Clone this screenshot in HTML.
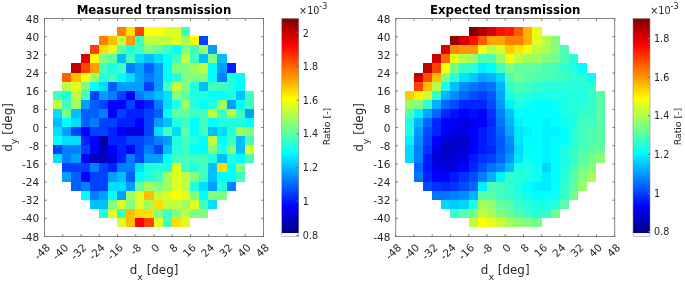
<!DOCTYPE html>
<html><head><meta charset="utf-8"><title>Transmission</title>
<style>
html,body{margin:0;padding:0;background:#fff}
svg{display:block}
text{font-family:'DejaVu Sans','Liberation Sans',sans-serif;fill:#262626}
.t{font-size:10.5px}
.c{font-size:9.6px}
.cl{font-size:9.3px}
.ti{font-size:11.75px;font-weight:bold;fill:#000}
.l{font-size:11.9px}
.sub{font-size:9.5px}
.sup{font-size:8px}
</style></head><body>
<svg width="685" height="282" viewBox="0 0 685 282">
<defs><linearGradient id="jet" x1="0" y1="1" x2="0" y2="0"><stop offset="0" stop-color="#fff"/><stop offset="0.0154" stop-color="#fff"/><stop offset="0.0154" stop-color="#000080"/><stop offset="0.0308" stop-color="#00008f"/><stop offset="0.0462" stop-color="#00009f"/><stop offset="0.0615" stop-color="#0000af"/><stop offset="0.0769" stop-color="#0000bf"/><stop offset="0.0923" stop-color="#0000cf"/><stop offset="0.1077" stop-color="#0000df"/><stop offset="0.1231" stop-color="#0000ef"/><stop offset="0.1385" stop-color="#0000ff"/><stop offset="0.1538" stop-color="#0010ff"/><stop offset="0.1692" stop-color="#0020ff"/><stop offset="0.1846" stop-color="#0030ff"/><stop offset="0.2000" stop-color="#0040ff"/><stop offset="0.2154" stop-color="#0050ff"/><stop offset="0.2308" stop-color="#0060ff"/><stop offset="0.2462" stop-color="#0070ff"/><stop offset="0.2615" stop-color="#0080ff"/><stop offset="0.2769" stop-color="#008fff"/><stop offset="0.2923" stop-color="#009fff"/><stop offset="0.3077" stop-color="#00afff"/><stop offset="0.3231" stop-color="#00bfff"/><stop offset="0.3385" stop-color="#00cfff"/><stop offset="0.3538" stop-color="#00dfff"/><stop offset="0.3692" stop-color="#00efff"/><stop offset="0.3846" stop-color="#00ffff"/><stop offset="0.4000" stop-color="#10ffef"/><stop offset="0.4154" stop-color="#20ffdf"/><stop offset="0.4308" stop-color="#30ffcf"/><stop offset="0.4462" stop-color="#40ffbf"/><stop offset="0.4615" stop-color="#50ffaf"/><stop offset="0.4769" stop-color="#60ff9f"/><stop offset="0.4923" stop-color="#70ff8f"/><stop offset="0.5077" stop-color="#80ff80"/><stop offset="0.5231" stop-color="#8fff70"/><stop offset="0.5385" stop-color="#9fff60"/><stop offset="0.5538" stop-color="#afff50"/><stop offset="0.5692" stop-color="#bfff40"/><stop offset="0.5846" stop-color="#cfff30"/><stop offset="0.6000" stop-color="#dfff20"/><stop offset="0.6154" stop-color="#efff10"/><stop offset="0.6308" stop-color="#ffff00"/><stop offset="0.6462" stop-color="#ffef00"/><stop offset="0.6615" stop-color="#ffdf00"/><stop offset="0.6769" stop-color="#ffcf00"/><stop offset="0.6923" stop-color="#ffbf00"/><stop offset="0.7077" stop-color="#ffaf00"/><stop offset="0.7231" stop-color="#ff9f00"/><stop offset="0.7385" stop-color="#ff8f00"/><stop offset="0.7538" stop-color="#ff8000"/><stop offset="0.7692" stop-color="#ff7000"/><stop offset="0.7846" stop-color="#ff6000"/><stop offset="0.8000" stop-color="#ff5000"/><stop offset="0.8154" stop-color="#ff4000"/><stop offset="0.8308" stop-color="#ff3000"/><stop offset="0.8462" stop-color="#ff2000"/><stop offset="0.8615" stop-color="#ff1000"/><stop offset="0.8769" stop-color="#ff0000"/><stop offset="0.8923" stop-color="#ef0000"/><stop offset="0.9077" stop-color="#df0000"/><stop offset="0.9231" stop-color="#cf0000"/><stop offset="0.9385" stop-color="#bf0000"/><stop offset="0.9538" stop-color="#af0000"/><stop offset="0.9692" stop-color="#9f0000"/><stop offset="0.9846" stop-color="#8f0000"/><stop offset="1.0000" stop-color="#800000"/></linearGradient></defs>
<rect width="685" height="282" fill="#fff"/>
<g shape-rendering="crispEdges">
<rect x="117" y="27" width="9" height="9" fill="#ff8000"/>
<rect x="126" y="27" width="9" height="9" fill="#ffdf00"/>
<rect x="135" y="27" width="9" height="9" fill="#ff4000"/>
<rect x="144" y="27" width="10" height="9" fill="#ffff00"/>
<rect x="154" y="27" width="9" height="9" fill="#ffff00"/>
<rect x="163" y="27" width="9" height="9" fill="#dfff20"/>
<rect x="172" y="27" width="9" height="9" fill="#dfff20"/>
<rect x="181" y="27" width="9" height="9" fill="#40ffbf"/>
<rect x="99" y="36" width="9" height="9" fill="#ff8000"/>
<rect x="108" y="36" width="9" height="9" fill="#ffbf00"/>
<rect x="117" y="36" width="9" height="9" fill="#bfff40"/>
<rect x="126" y="36" width="9" height="9" fill="#ff9f00"/>
<rect x="135" y="36" width="9" height="9" fill="#40ffbf"/>
<rect x="144" y="36" width="10" height="9" fill="#bfff40"/>
<rect x="154" y="36" width="9" height="9" fill="#bfff40"/>
<rect x="163" y="36" width="9" height="9" fill="#bfff40"/>
<rect x="172" y="36" width="9" height="9" fill="#dfff20"/>
<rect x="181" y="36" width="9" height="9" fill="#9fff60"/>
<rect x="190" y="36" width="9" height="9" fill="#ffff00"/>
<rect x="199" y="36" width="9" height="9" fill="#0040ff"/>
<rect x="90" y="45" width="9" height="9" fill="#ff4000"/>
<rect x="99" y="45" width="9" height="9" fill="#ffdf00"/>
<rect x="108" y="45" width="9" height="9" fill="#dfff20"/>
<rect x="117" y="45" width="9" height="9" fill="#60ff9f"/>
<rect x="126" y="45" width="9" height="9" fill="#20ffdf"/>
<rect x="135" y="45" width="9" height="9" fill="#40ffbf"/>
<rect x="144" y="45" width="10" height="9" fill="#80ff80"/>
<rect x="154" y="45" width="9" height="9" fill="#60ff9f"/>
<rect x="163" y="45" width="9" height="9" fill="#40ffbf"/>
<rect x="172" y="45" width="9" height="9" fill="#00ffff"/>
<rect x="181" y="45" width="9" height="9" fill="#80ff80"/>
<rect x="190" y="45" width="9" height="9" fill="#40ffbf"/>
<rect x="199" y="45" width="9" height="9" fill="#9fff60"/>
<rect x="208" y="45" width="9" height="9" fill="#009fff"/>
<rect x="81" y="54" width="9" height="9" fill="#df0000"/>
<rect x="90" y="54" width="9" height="9" fill="#ffff00"/>
<rect x="99" y="54" width="9" height="9" fill="#80ff80"/>
<rect x="108" y="54" width="9" height="9" fill="#60ff9f"/>
<rect x="117" y="54" width="9" height="9" fill="#00bfff"/>
<rect x="126" y="54" width="9" height="9" fill="#40ffbf"/>
<rect x="135" y="54" width="9" height="9" fill="#00dfff"/>
<rect x="144" y="54" width="10" height="9" fill="#00bfff"/>
<rect x="154" y="54" width="9" height="9" fill="#00dfff"/>
<rect x="163" y="54" width="9" height="9" fill="#00ffff"/>
<rect x="172" y="54" width="9" height="9" fill="#40ffbf"/>
<rect x="181" y="54" width="9" height="9" fill="#bfff40"/>
<rect x="190" y="54" width="9" height="9" fill="#40ffbf"/>
<rect x="199" y="54" width="9" height="9" fill="#00bfff"/>
<rect x="208" y="54" width="9" height="9" fill="#80ff80"/>
<rect x="217" y="54" width="10" height="9" fill="#00bfff"/>
<rect x="71" y="63" width="10" height="10" fill="#bf0000"/>
<rect x="81" y="63" width="9" height="10" fill="#ff4000"/>
<rect x="90" y="63" width="9" height="10" fill="#ff9f00"/>
<rect x="99" y="63" width="9" height="10" fill="#40ffbf"/>
<rect x="108" y="63" width="9" height="10" fill="#20ffdf"/>
<rect x="117" y="63" width="9" height="10" fill="#40ffbf"/>
<rect x="126" y="63" width="9" height="10" fill="#0080ff"/>
<rect x="135" y="63" width="9" height="10" fill="#009fff"/>
<rect x="144" y="63" width="10" height="10" fill="#0060ff"/>
<rect x="154" y="63" width="9" height="10" fill="#009fff"/>
<rect x="163" y="63" width="9" height="10" fill="#00ffff"/>
<rect x="172" y="63" width="9" height="10" fill="#80ff80"/>
<rect x="181" y="63" width="9" height="10" fill="#80ff80"/>
<rect x="190" y="63" width="9" height="10" fill="#9fff60"/>
<rect x="199" y="63" width="9" height="10" fill="#bfff40"/>
<rect x="208" y="63" width="9" height="10" fill="#00ffff"/>
<rect x="217" y="63" width="10" height="10" fill="#009fff"/>
<rect x="227" y="63" width="9" height="10" fill="#0020ff"/>
<rect x="62" y="73" width="9" height="9" fill="#ff6000"/>
<rect x="71" y="73" width="10" height="9" fill="#ffbf00"/>
<rect x="81" y="73" width="9" height="9" fill="#ffff00"/>
<rect x="90" y="73" width="9" height="9" fill="#9fff60"/>
<rect x="99" y="73" width="9" height="9" fill="#20ffdf"/>
<rect x="108" y="73" width="9" height="9" fill="#40ffbf"/>
<rect x="117" y="73" width="9" height="9" fill="#00ffff"/>
<rect x="126" y="73" width="9" height="9" fill="#00dfff"/>
<rect x="135" y="73" width="9" height="9" fill="#009fff"/>
<rect x="144" y="73" width="10" height="9" fill="#0080ff"/>
<rect x="154" y="73" width="9" height="9" fill="#009fff"/>
<rect x="163" y="73" width="9" height="9" fill="#00ffff"/>
<rect x="172" y="73" width="9" height="9" fill="#20ffdf"/>
<rect x="181" y="73" width="9" height="9" fill="#80ff80"/>
<rect x="190" y="73" width="9" height="9" fill="#80ff80"/>
<rect x="199" y="73" width="9" height="9" fill="#80ff80"/>
<rect x="208" y="73" width="9" height="9" fill="#00ffff"/>
<rect x="217" y="73" width="10" height="9" fill="#0080ff"/>
<rect x="227" y="73" width="9" height="9" fill="#20ffdf"/>
<rect x="236" y="73" width="9" height="9" fill="#00ffff"/>
<rect x="62" y="82" width="9" height="9" fill="#bfff40"/>
<rect x="71" y="82" width="10" height="9" fill="#dfff20"/>
<rect x="81" y="82" width="9" height="9" fill="#80ff80"/>
<rect x="90" y="82" width="9" height="9" fill="#00ffff"/>
<rect x="99" y="82" width="9" height="9" fill="#00dfff"/>
<rect x="108" y="82" width="9" height="9" fill="#0060ff"/>
<rect x="117" y="82" width="9" height="9" fill="#009fff"/>
<rect x="126" y="82" width="9" height="9" fill="#009fff"/>
<rect x="135" y="82" width="9" height="9" fill="#009fff"/>
<rect x="144" y="82" width="10" height="9" fill="#0040ff"/>
<rect x="154" y="82" width="9" height="9" fill="#009fff"/>
<rect x="163" y="82" width="9" height="9" fill="#40ffbf"/>
<rect x="172" y="82" width="9" height="9" fill="#bfff40"/>
<rect x="181" y="82" width="9" height="9" fill="#80ff80"/>
<rect x="190" y="82" width="9" height="9" fill="#20ffdf"/>
<rect x="199" y="82" width="9" height="9" fill="#00bfff"/>
<rect x="208" y="82" width="9" height="9" fill="#40ffbf"/>
<rect x="217" y="82" width="10" height="9" fill="#40ffbf"/>
<rect x="227" y="82" width="9" height="9" fill="#20ffdf"/>
<rect x="236" y="82" width="9" height="9" fill="#00ffff"/>
<rect x="53" y="91" width="9" height="9" fill="#40ffbf"/>
<rect x="62" y="91" width="9" height="9" fill="#20ffdf"/>
<rect x="71" y="91" width="10" height="9" fill="#bfff40"/>
<rect x="81" y="91" width="9" height="9" fill="#40ffbf"/>
<rect x="90" y="91" width="9" height="9" fill="#0040ff"/>
<rect x="99" y="91" width="9" height="9" fill="#009fff"/>
<rect x="108" y="91" width="9" height="9" fill="#0080ff"/>
<rect x="117" y="91" width="9" height="9" fill="#0040ff"/>
<rect x="126" y="91" width="9" height="9" fill="#0000ff"/>
<rect x="135" y="91" width="9" height="9" fill="#0080ff"/>
<rect x="144" y="91" width="10" height="9" fill="#009fff"/>
<rect x="154" y="91" width="9" height="9" fill="#00bfff"/>
<rect x="163" y="91" width="9" height="9" fill="#00dfff"/>
<rect x="172" y="91" width="9" height="9" fill="#80ff80"/>
<rect x="181" y="91" width="9" height="9" fill="#60ff9f"/>
<rect x="190" y="91" width="9" height="9" fill="#20ffdf"/>
<rect x="199" y="91" width="9" height="9" fill="#20ffdf"/>
<rect x="208" y="91" width="9" height="9" fill="#00ffff"/>
<rect x="217" y="91" width="10" height="9" fill="#00ffff"/>
<rect x="227" y="91" width="9" height="9" fill="#20ffdf"/>
<rect x="236" y="91" width="9" height="9" fill="#00bfff"/>
<rect x="245" y="91" width="9" height="9" fill="#40ffbf"/>
<rect x="53" y="100" width="9" height="9" fill="#bfff40"/>
<rect x="62" y="100" width="9" height="9" fill="#40ffbf"/>
<rect x="71" y="100" width="10" height="9" fill="#9fff60"/>
<rect x="81" y="100" width="9" height="9" fill="#009fff"/>
<rect x="90" y="100" width="9" height="9" fill="#0060ff"/>
<rect x="99" y="100" width="9" height="9" fill="#0040ff"/>
<rect x="108" y="100" width="9" height="9" fill="#0000ff"/>
<rect x="117" y="100" width="9" height="9" fill="#0000ff"/>
<rect x="126" y="100" width="9" height="9" fill="#0040ff"/>
<rect x="135" y="100" width="9" height="9" fill="#0000ff"/>
<rect x="144" y="100" width="10" height="9" fill="#0020ff"/>
<rect x="154" y="100" width="9" height="9" fill="#0080ff"/>
<rect x="163" y="100" width="9" height="9" fill="#00dfff"/>
<rect x="172" y="100" width="9" height="9" fill="#20ffdf"/>
<rect x="181" y="100" width="9" height="9" fill="#9fff60"/>
<rect x="190" y="100" width="9" height="9" fill="#20ffdf"/>
<rect x="199" y="100" width="9" height="9" fill="#00ffff"/>
<rect x="208" y="100" width="9" height="9" fill="#20ffdf"/>
<rect x="217" y="100" width="10" height="9" fill="#9fff60"/>
<rect x="227" y="100" width="9" height="9" fill="#009fff"/>
<rect x="236" y="100" width="9" height="9" fill="#00ffff"/>
<rect x="245" y="100" width="9" height="9" fill="#40ffbf"/>
<rect x="53" y="109" width="9" height="9" fill="#00dfff"/>
<rect x="62" y="109" width="9" height="9" fill="#80ff80"/>
<rect x="71" y="109" width="10" height="9" fill="#00bfff"/>
<rect x="81" y="109" width="9" height="9" fill="#0060ff"/>
<rect x="90" y="109" width="9" height="9" fill="#0060ff"/>
<rect x="99" y="109" width="9" height="9" fill="#0080ff"/>
<rect x="108" y="109" width="9" height="9" fill="#0000ff"/>
<rect x="117" y="109" width="9" height="9" fill="#0040ff"/>
<rect x="126" y="109" width="9" height="9" fill="#0020ff"/>
<rect x="135" y="109" width="9" height="9" fill="#0020ff"/>
<rect x="144" y="109" width="10" height="9" fill="#0040ff"/>
<rect x="154" y="109" width="9" height="9" fill="#0060ff"/>
<rect x="163" y="109" width="9" height="9" fill="#00ffff"/>
<rect x="172" y="109" width="9" height="9" fill="#60ff9f"/>
<rect x="181" y="109" width="9" height="9" fill="#60ff9f"/>
<rect x="190" y="109" width="9" height="9" fill="#40ffbf"/>
<rect x="199" y="109" width="9" height="9" fill="#40ffbf"/>
<rect x="208" y="109" width="9" height="9" fill="#bfff40"/>
<rect x="217" y="109" width="10" height="9" fill="#40ffbf"/>
<rect x="227" y="109" width="9" height="9" fill="#bfff40"/>
<rect x="236" y="109" width="9" height="9" fill="#40ffbf"/>
<rect x="245" y="109" width="9" height="9" fill="#009fff"/>
<rect x="53" y="118" width="9" height="9" fill="#00bfff"/>
<rect x="62" y="118" width="9" height="9" fill="#00ffff"/>
<rect x="71" y="118" width="10" height="9" fill="#00dfff"/>
<rect x="81" y="118" width="9" height="9" fill="#0060ff"/>
<rect x="90" y="118" width="9" height="9" fill="#0080ff"/>
<rect x="99" y="118" width="9" height="9" fill="#0040ff"/>
<rect x="108" y="118" width="9" height="9" fill="#0040ff"/>
<rect x="117" y="118" width="9" height="9" fill="#0020ff"/>
<rect x="126" y="118" width="9" height="9" fill="#0020ff"/>
<rect x="135" y="118" width="9" height="9" fill="#0000ff"/>
<rect x="144" y="118" width="10" height="9" fill="#0040ff"/>
<rect x="154" y="118" width="9" height="9" fill="#009fff"/>
<rect x="163" y="118" width="9" height="9" fill="#00bfff"/>
<rect x="172" y="118" width="9" height="9" fill="#20ffdf"/>
<rect x="181" y="118" width="9" height="9" fill="#40ffbf"/>
<rect x="190" y="118" width="9" height="9" fill="#00ffff"/>
<rect x="199" y="118" width="9" height="9" fill="#40ffbf"/>
<rect x="208" y="118" width="9" height="9" fill="#00ffff"/>
<rect x="217" y="118" width="10" height="9" fill="#20ffdf"/>
<rect x="227" y="118" width="9" height="9" fill="#20ffdf"/>
<rect x="236" y="118" width="9" height="9" fill="#20ffdf"/>
<rect x="245" y="118" width="9" height="9" fill="#00ffff"/>
<rect x="53" y="127" width="9" height="9" fill="#00dfff"/>
<rect x="62" y="127" width="9" height="9" fill="#009fff"/>
<rect x="71" y="127" width="10" height="9" fill="#0040ff"/>
<rect x="81" y="127" width="9" height="9" fill="#0000ff"/>
<rect x="90" y="127" width="9" height="9" fill="#0040ff"/>
<rect x="99" y="127" width="9" height="9" fill="#0040ff"/>
<rect x="108" y="127" width="9" height="9" fill="#0020ff"/>
<rect x="117" y="127" width="9" height="9" fill="#0000ff"/>
<rect x="126" y="127" width="9" height="9" fill="#0000df"/>
<rect x="135" y="127" width="9" height="9" fill="#0000df"/>
<rect x="144" y="127" width="10" height="9" fill="#0040ff"/>
<rect x="154" y="127" width="9" height="9" fill="#00dfff"/>
<rect x="163" y="127" width="9" height="9" fill="#40ffbf"/>
<rect x="172" y="127" width="9" height="9" fill="#00dfff"/>
<rect x="181" y="127" width="9" height="9" fill="#60ff9f"/>
<rect x="190" y="127" width="9" height="9" fill="#00ffff"/>
<rect x="199" y="127" width="9" height="9" fill="#40ffbf"/>
<rect x="208" y="127" width="9" height="9" fill="#00bfff"/>
<rect x="217" y="127" width="10" height="9" fill="#00dfff"/>
<rect x="227" y="127" width="9" height="9" fill="#20ffdf"/>
<rect x="236" y="127" width="9" height="9" fill="#9fff60"/>
<rect x="245" y="127" width="9" height="9" fill="#80ff80"/>
<rect x="53" y="136" width="9" height="9" fill="#00ffff"/>
<rect x="62" y="136" width="9" height="9" fill="#00dfff"/>
<rect x="71" y="136" width="10" height="9" fill="#00dfff"/>
<rect x="81" y="136" width="9" height="9" fill="#0020ff"/>
<rect x="90" y="136" width="9" height="9" fill="#0000ff"/>
<rect x="99" y="136" width="9" height="9" fill="#00009f"/>
<rect x="108" y="136" width="9" height="9" fill="#0020ff"/>
<rect x="117" y="136" width="9" height="9" fill="#0020ff"/>
<rect x="126" y="136" width="9" height="9" fill="#0040ff"/>
<rect x="135" y="136" width="9" height="9" fill="#0040ff"/>
<rect x="144" y="136" width="10" height="9" fill="#0060ff"/>
<rect x="154" y="136" width="9" height="9" fill="#0080ff"/>
<rect x="163" y="136" width="9" height="9" fill="#009fff"/>
<rect x="172" y="136" width="9" height="9" fill="#20ffdf"/>
<rect x="181" y="136" width="9" height="9" fill="#40ffbf"/>
<rect x="190" y="136" width="9" height="9" fill="#20ffdf"/>
<rect x="199" y="136" width="9" height="9" fill="#00ffff"/>
<rect x="208" y="136" width="9" height="9" fill="#bfff40"/>
<rect x="217" y="136" width="10" height="9" fill="#00ffff"/>
<rect x="227" y="136" width="9" height="9" fill="#40ffbf"/>
<rect x="236" y="136" width="9" height="9" fill="#00bfff"/>
<rect x="245" y="136" width="9" height="9" fill="#40ffbf"/>
<rect x="53" y="145" width="9" height="9" fill="#0040ff"/>
<rect x="62" y="145" width="9" height="9" fill="#0080ff"/>
<rect x="71" y="145" width="10" height="9" fill="#0080ff"/>
<rect x="81" y="145" width="9" height="9" fill="#0040ff"/>
<rect x="90" y="145" width="9" height="9" fill="#0000ff"/>
<rect x="99" y="145" width="9" height="9" fill="#0000bf"/>
<rect x="108" y="145" width="9" height="9" fill="#0000ff"/>
<rect x="117" y="145" width="9" height="9" fill="#0020ff"/>
<rect x="126" y="145" width="9" height="9" fill="#0000ff"/>
<rect x="135" y="145" width="9" height="9" fill="#0040ff"/>
<rect x="144" y="145" width="10" height="9" fill="#0080ff"/>
<rect x="154" y="145" width="9" height="9" fill="#0040ff"/>
<rect x="163" y="145" width="9" height="9" fill="#00bfff"/>
<rect x="172" y="145" width="9" height="9" fill="#20ffdf"/>
<rect x="181" y="145" width="9" height="9" fill="#40ffbf"/>
<rect x="190" y="145" width="9" height="9" fill="#00ffff"/>
<rect x="199" y="145" width="9" height="9" fill="#00ffff"/>
<rect x="208" y="145" width="9" height="9" fill="#80ff80"/>
<rect x="217" y="145" width="10" height="9" fill="#20ffdf"/>
<rect x="227" y="145" width="9" height="9" fill="#80ff80"/>
<rect x="236" y="145" width="9" height="9" fill="#00bfff"/>
<rect x="245" y="145" width="9" height="9" fill="#dfff20"/>
<rect x="53" y="154" width="9" height="9" fill="#00dfff"/>
<rect x="62" y="154" width="9" height="9" fill="#0080ff"/>
<rect x="71" y="154" width="10" height="9" fill="#009fff"/>
<rect x="81" y="154" width="9" height="9" fill="#0000ff"/>
<rect x="90" y="154" width="9" height="9" fill="#0000bf"/>
<rect x="99" y="154" width="9" height="9" fill="#0000bf"/>
<rect x="108" y="154" width="9" height="9" fill="#0000df"/>
<rect x="117" y="154" width="9" height="9" fill="#0020ff"/>
<rect x="126" y="154" width="9" height="9" fill="#0080ff"/>
<rect x="135" y="154" width="9" height="9" fill="#0040ff"/>
<rect x="144" y="154" width="10" height="9" fill="#009fff"/>
<rect x="154" y="154" width="9" height="9" fill="#009fff"/>
<rect x="163" y="154" width="9" height="9" fill="#00ffff"/>
<rect x="172" y="154" width="9" height="9" fill="#40ffbf"/>
<rect x="181" y="154" width="9" height="9" fill="#40ffbf"/>
<rect x="190" y="154" width="9" height="9" fill="#40ffbf"/>
<rect x="199" y="154" width="9" height="9" fill="#40ffbf"/>
<rect x="208" y="154" width="9" height="9" fill="#20ffdf"/>
<rect x="217" y="154" width="10" height="9" fill="#00bfff"/>
<rect x="227" y="154" width="9" height="9" fill="#20ffdf"/>
<rect x="236" y="154" width="9" height="9" fill="#00ffff"/>
<rect x="245" y="154" width="9" height="9" fill="#40ffbf"/>
<rect x="62" y="163" width="9" height="9" fill="#0040ff"/>
<rect x="71" y="163" width="10" height="9" fill="#0040ff"/>
<rect x="81" y="163" width="9" height="9" fill="#0040ff"/>
<rect x="90" y="163" width="9" height="9" fill="#0080ff"/>
<rect x="99" y="163" width="9" height="9" fill="#0040ff"/>
<rect x="108" y="163" width="9" height="9" fill="#0020ff"/>
<rect x="117" y="163" width="9" height="9" fill="#0080ff"/>
<rect x="126" y="163" width="9" height="9" fill="#0080ff"/>
<rect x="135" y="163" width="9" height="9" fill="#00dfff"/>
<rect x="144" y="163" width="10" height="9" fill="#20ffdf"/>
<rect x="154" y="163" width="9" height="9" fill="#20ffdf"/>
<rect x="163" y="163" width="9" height="9" fill="#20ffdf"/>
<rect x="172" y="163" width="9" height="9" fill="#dfff20"/>
<rect x="181" y="163" width="9" height="9" fill="#40ffbf"/>
<rect x="190" y="163" width="9" height="9" fill="#20ffdf"/>
<rect x="199" y="163" width="9" height="9" fill="#40ffbf"/>
<rect x="208" y="163" width="9" height="9" fill="#00bfff"/>
<rect x="217" y="163" width="10" height="9" fill="#ffdf00"/>
<rect x="227" y="163" width="9" height="9" fill="#00ffff"/>
<rect x="236" y="163" width="9" height="9" fill="#80ff80"/>
<rect x="62" y="172" width="9" height="10" fill="#009fff"/>
<rect x="71" y="172" width="10" height="10" fill="#0060ff"/>
<rect x="81" y="172" width="9" height="10" fill="#0000ff"/>
<rect x="90" y="172" width="9" height="10" fill="#0040ff"/>
<rect x="99" y="172" width="9" height="10" fill="#0040ff"/>
<rect x="108" y="172" width="9" height="10" fill="#009fff"/>
<rect x="117" y="172" width="9" height="10" fill="#00bfff"/>
<rect x="126" y="172" width="9" height="10" fill="#0060ff"/>
<rect x="135" y="172" width="9" height="10" fill="#00ffff"/>
<rect x="144" y="172" width="10" height="10" fill="#20ffdf"/>
<rect x="154" y="172" width="9" height="10" fill="#40ffbf"/>
<rect x="163" y="172" width="9" height="10" fill="#9fff60"/>
<rect x="172" y="172" width="9" height="10" fill="#dfff20"/>
<rect x="181" y="172" width="9" height="10" fill="#bfff40"/>
<rect x="190" y="172" width="9" height="10" fill="#80ff80"/>
<rect x="199" y="172" width="9" height="10" fill="#40ffbf"/>
<rect x="208" y="172" width="9" height="10" fill="#00bfff"/>
<rect x="217" y="172" width="10" height="10" fill="#00ffff"/>
<rect x="227" y="172" width="9" height="10" fill="#00ffff"/>
<rect x="236" y="172" width="9" height="10" fill="#40ffbf"/>
<rect x="71" y="182" width="10" height="9" fill="#0060ff"/>
<rect x="81" y="182" width="9" height="9" fill="#0080ff"/>
<rect x="90" y="182" width="9" height="9" fill="#0040ff"/>
<rect x="99" y="182" width="9" height="9" fill="#0040ff"/>
<rect x="108" y="182" width="9" height="9" fill="#00dfff"/>
<rect x="117" y="182" width="9" height="9" fill="#00dfff"/>
<rect x="126" y="182" width="9" height="9" fill="#009fff"/>
<rect x="135" y="182" width="9" height="9" fill="#60ff9f"/>
<rect x="144" y="182" width="10" height="9" fill="#9fff60"/>
<rect x="154" y="182" width="9" height="9" fill="#80ff80"/>
<rect x="163" y="182" width="9" height="9" fill="#9fff60"/>
<rect x="172" y="182" width="9" height="9" fill="#dfff20"/>
<rect x="181" y="182" width="9" height="9" fill="#bfff40"/>
<rect x="190" y="182" width="9" height="9" fill="#20ffdf"/>
<rect x="199" y="182" width="9" height="9" fill="#00dfff"/>
<rect x="208" y="182" width="9" height="9" fill="#009fff"/>
<rect x="217" y="182" width="10" height="9" fill="#20ffdf"/>
<rect x="227" y="182" width="9" height="9" fill="#0080ff"/>
<rect x="81" y="191" width="9" height="9" fill="#00ffff"/>
<rect x="90" y="191" width="9" height="9" fill="#0080ff"/>
<rect x="99" y="191" width="9" height="9" fill="#009fff"/>
<rect x="108" y="191" width="9" height="9" fill="#00ffff"/>
<rect x="117" y="191" width="9" height="9" fill="#009fff"/>
<rect x="126" y="191" width="9" height="9" fill="#9fff60"/>
<rect x="135" y="191" width="9" height="9" fill="#dfff20"/>
<rect x="144" y="191" width="10" height="9" fill="#ffbf00"/>
<rect x="154" y="191" width="9" height="9" fill="#bfff40"/>
<rect x="163" y="191" width="9" height="9" fill="#dfff20"/>
<rect x="172" y="191" width="9" height="9" fill="#ffff00"/>
<rect x="181" y="191" width="9" height="9" fill="#dfff20"/>
<rect x="190" y="191" width="9" height="9" fill="#80ff80"/>
<rect x="199" y="191" width="9" height="9" fill="#00ffff"/>
<rect x="208" y="191" width="9" height="9" fill="#80ff80"/>
<rect x="217" y="191" width="10" height="9" fill="#80ff80"/>
<rect x="90" y="200" width="9" height="9" fill="#00bfff"/>
<rect x="99" y="200" width="9" height="9" fill="#00bfff"/>
<rect x="108" y="200" width="9" height="9" fill="#80ff80"/>
<rect x="117" y="200" width="9" height="9" fill="#dfff20"/>
<rect x="126" y="200" width="9" height="9" fill="#80ff80"/>
<rect x="135" y="200" width="9" height="9" fill="#dfff20"/>
<rect x="144" y="200" width="10" height="9" fill="#9fff60"/>
<rect x="154" y="200" width="9" height="9" fill="#ffdf00"/>
<rect x="163" y="200" width="9" height="9" fill="#bfff40"/>
<rect x="172" y="200" width="9" height="9" fill="#bfff40"/>
<rect x="181" y="200" width="9" height="9" fill="#9fff60"/>
<rect x="190" y="200" width="9" height="9" fill="#dfff20"/>
<rect x="199" y="200" width="9" height="9" fill="#40ffbf"/>
<rect x="208" y="200" width="9" height="9" fill="#00dfff"/>
<rect x="99" y="209" width="9" height="9" fill="#20ffdf"/>
<rect x="108" y="209" width="9" height="9" fill="#dfff20"/>
<rect x="117" y="209" width="9" height="9" fill="#40ffbf"/>
<rect x="126" y="209" width="9" height="9" fill="#ffbf00"/>
<rect x="135" y="209" width="9" height="9" fill="#ffdf00"/>
<rect x="144" y="209" width="10" height="9" fill="#ffdf00"/>
<rect x="154" y="209" width="9" height="9" fill="#80ff80"/>
<rect x="163" y="209" width="9" height="9" fill="#40ffbf"/>
<rect x="172" y="209" width="9" height="9" fill="#80ff80"/>
<rect x="181" y="209" width="9" height="9" fill="#bfff40"/>
<rect x="190" y="209" width="9" height="9" fill="#80ff80"/>
<rect x="199" y="209" width="9" height="9" fill="#80ff80"/>
<rect x="117" y="218" width="9" height="9" fill="#dfff20"/>
<rect x="126" y="218" width="9" height="9" fill="#ffbf00"/>
<rect x="135" y="218" width="9" height="9" fill="#ff0000"/>
<rect x="144" y="218" width="10" height="9" fill="#ff4000"/>
<rect x="154" y="218" width="9" height="9" fill="#dfff20"/>
<rect x="163" y="218" width="9" height="9" fill="#40ffbf"/>
<rect x="172" y="218" width="9" height="9" fill="#ffdf00"/>
<rect x="181" y="218" width="9" height="9" fill="#dfff20"/>
</g>
<rect x="44.5" y="18.5" width="219.0" height="218.0" fill="none" stroke="#858585" stroke-width="1"/>
<path d="M44.50 236.5v-2.2M44.50 18.5v2.2M44.5 18.50h2.2M263.5 18.50h-2.2M62.75 236.5v-2.2M62.75 18.5v2.2M44.5 36.67h2.2M263.5 36.67h-2.2M81.00 236.5v-2.2M81.00 18.5v2.2M44.5 54.83h2.2M263.5 54.83h-2.2M99.25 236.5v-2.2M99.25 18.5v2.2M44.5 73.00h2.2M263.5 73.00h-2.2M117.50 236.5v-2.2M117.50 18.5v2.2M44.5 91.17h2.2M263.5 91.17h-2.2M135.75 236.5v-2.2M135.75 18.5v2.2M44.5 109.33h2.2M263.5 109.33h-2.2M154.00 236.5v-2.2M154.00 18.5v2.2M44.5 127.50h2.2M263.5 127.50h-2.2M172.25 236.5v-2.2M172.25 18.5v2.2M44.5 145.67h2.2M263.5 145.67h-2.2M190.50 236.5v-2.2M190.50 18.5v2.2M44.5 163.83h2.2M263.5 163.83h-2.2M208.75 236.5v-2.2M208.75 18.5v2.2M44.5 182.00h2.2M263.5 182.00h-2.2M227.00 236.5v-2.2M227.00 18.5v2.2M44.5 200.17h2.2M263.5 200.17h-2.2M245.25 236.5v-2.2M245.25 18.5v2.2M44.5 218.33h2.2M263.5 218.33h-2.2M263.50 236.5v-2.2M263.50 18.5v2.2M44.5 236.50h2.2M263.5 236.50h-2.2" stroke="#707070" stroke-width="1" fill="none"/>
<text class="t" x="39.2" y="22.5" text-anchor="end">48</text>
<text class="t" transform="translate(50.7 248.3) rotate(-45)" text-anchor="end">-48</text>
<text class="t" x="39.2" y="40.7" text-anchor="end">40</text>
<text class="t" transform="translate(69.0 248.3) rotate(-45)" text-anchor="end">-40</text>
<text class="t" x="39.2" y="58.8" text-anchor="end">32</text>
<text class="t" transform="translate(87.2 248.3) rotate(-45)" text-anchor="end">-32</text>
<text class="t" x="39.2" y="77.0" text-anchor="end">24</text>
<text class="t" transform="translate(105.5 248.3) rotate(-45)" text-anchor="end">-24</text>
<text class="t" x="39.2" y="95.2" text-anchor="end">16</text>
<text class="t" transform="translate(123.7 248.3) rotate(-45)" text-anchor="end">-16</text>
<text class="t" x="39.2" y="113.3" text-anchor="end">8</text>
<text class="t" transform="translate(141.9 248.3) rotate(-45)" text-anchor="end">-8</text>
<text class="t" x="39.2" y="131.5" text-anchor="end">0</text>
<text class="t" transform="translate(160.2 248.3) rotate(-45)" text-anchor="end">0</text>
<text class="t" x="39.2" y="149.7" text-anchor="end">-8</text>
<text class="t" transform="translate(178.4 248.3) rotate(-45)" text-anchor="end">8</text>
<text class="t" x="39.2" y="167.8" text-anchor="end">-16</text>
<text class="t" transform="translate(196.7 248.3) rotate(-45)" text-anchor="end">16</text>
<text class="t" x="39.2" y="186.0" text-anchor="end">-24</text>
<text class="t" transform="translate(214.9 248.3) rotate(-45)" text-anchor="end">24</text>
<text class="t" x="39.2" y="204.2" text-anchor="end">-32</text>
<text class="t" transform="translate(233.2 248.3) rotate(-45)" text-anchor="end">32</text>
<text class="t" x="39.2" y="222.3" text-anchor="end">-40</text>
<text class="t" transform="translate(251.4 248.3) rotate(-45)" text-anchor="end">40</text>
<text class="t" x="39.2" y="240.5" text-anchor="end">-48</text>
<text class="t" transform="translate(269.7 248.3) rotate(-45)" text-anchor="end">48</text>
<text class="ti" x="154.0" y="14.3" text-anchor="middle">Measured transmission</text>
<text class="l" x="154.0" y="274.2" text-anchor="middle">d<tspan class="sub" dy="5.4">x</tspan><tspan dy="-5.4"> [deg]</tspan></text>
<text class="l" transform="translate(12.0 127.5) rotate(-90)" text-anchor="middle">d<tspan class="sub" dy="5.4">y</tspan><tspan dy="-5.4"> [deg]</tspan></text>
<rect x="281.8" y="18.5" width="17.0" height="218.0" fill="url(#jet)"/>
<rect x="281.8" y="18.5" width="17.0" height="218.0" fill="none" stroke="#858585" stroke-width="0.5"/>
<text class="c" x="302.8" y="36.5">2</text>
<text class="c" x="302.8" y="70.2">1.8</text>
<text class="c" x="302.8" y="103.8">1.6</text>
<text class="c" x="302.8" y="137.4">1.4</text>
<text class="c" x="302.8" y="171.0">1.2</text>
<text class="c" x="302.8" y="204.6">1</text>
<text class="c" x="302.8" y="239.0">0.8</text>
<path d="M298.8 32.90h-2.2M298.8 66.60h-2.2M298.8 100.20h-2.2M298.8 133.80h-2.2M298.8 167.40h-2.2M298.8 201.00h-2.2M298.8 235.40h-2.2" stroke="#707070" stroke-width="1" fill="none"/>
<text class="c" x="299.1" y="13.6">×10<tspan class="sup" dy="-5">-3</tspan></text>
<text class="cl" transform="translate(330.0 126.6) rotate(-90)" text-anchor="middle">Ratio [-]</text>
<g shape-rendering="crispEdges">
<rect x="469" y="27" width="9" height="9" fill="#800000"/>
<rect x="478" y="27" width="9" height="9" fill="#b30000"/>
<rect x="487" y="27" width="9" height="9" fill="#d90000"/>
<rect x="496" y="27" width="9" height="9" fill="#ff0d00"/>
<rect x="505" y="27" width="9" height="9" fill="#ff1a00"/>
<rect x="514" y="27" width="9" height="9" fill="#ff5900"/>
<rect x="523" y="27" width="9" height="9" fill="#ffb300"/>
<rect x="532" y="27" width="10" height="9" fill="#e5ff1a"/>
<rect x="450" y="36" width="9" height="9" fill="#990000"/>
<rect x="459" y="36" width="10" height="9" fill="#d90000"/>
<rect x="469" y="36" width="9" height="9" fill="#ff0d00"/>
<rect x="478" y="36" width="9" height="9" fill="#ff5900"/>
<rect x="487" y="36" width="9" height="9" fill="#ffa600"/>
<rect x="496" y="36" width="9" height="9" fill="#ffa600"/>
<rect x="505" y="36" width="9" height="9" fill="#ff8000"/>
<rect x="514" y="36" width="9" height="9" fill="#ff8000"/>
<rect x="523" y="36" width="9" height="9" fill="#ffb300"/>
<rect x="532" y="36" width="10" height="9" fill="#e5ff1a"/>
<rect x="542" y="36" width="9" height="9" fill="#b3ff4c"/>
<rect x="551" y="36" width="9" height="9" fill="#80ff80"/>
<rect x="441" y="45" width="9" height="9" fill="#d90000"/>
<rect x="450" y="45" width="9" height="9" fill="#ff8c00"/>
<rect x="459" y="45" width="10" height="9" fill="#ff9900"/>
<rect x="469" y="45" width="9" height="9" fill="#ff9900"/>
<rect x="478" y="45" width="9" height="9" fill="#f2ff0d"/>
<rect x="487" y="45" width="9" height="9" fill="#b3ff4c"/>
<rect x="496" y="45" width="9" height="9" fill="#d9ff26"/>
<rect x="505" y="45" width="9" height="9" fill="#ffcc00"/>
<rect x="514" y="45" width="9" height="9" fill="#ffe500"/>
<rect x="523" y="45" width="9" height="9" fill="#f9ff06"/>
<rect x="532" y="45" width="10" height="9" fill="#bfff40"/>
<rect x="542" y="45" width="9" height="9" fill="#acff53"/>
<rect x="551" y="45" width="9" height="9" fill="#80ff80"/>
<rect x="560" y="45" width="9" height="9" fill="#4dffb2"/>
<rect x="432" y="54" width="9" height="9" fill="#cc0000"/>
<rect x="441" y="54" width="9" height="9" fill="#ff6600"/>
<rect x="450" y="54" width="9" height="9" fill="#e5ff1a"/>
<rect x="459" y="54" width="10" height="9" fill="#b3ff4c"/>
<rect x="469" y="54" width="9" height="9" fill="#99ff66"/>
<rect x="478" y="54" width="9" height="9" fill="#4dffb2"/>
<rect x="487" y="54" width="9" height="9" fill="#4dffb2"/>
<rect x="496" y="54" width="9" height="9" fill="#99ff66"/>
<rect x="505" y="54" width="9" height="9" fill="#f2ff0d"/>
<rect x="514" y="54" width="9" height="9" fill="#bfff40"/>
<rect x="523" y="54" width="9" height="9" fill="#9fff60"/>
<rect x="532" y="54" width="10" height="9" fill="#9fff60"/>
<rect x="542" y="54" width="9" height="9" fill="#80ff80"/>
<rect x="551" y="54" width="9" height="9" fill="#73ff8c"/>
<rect x="560" y="54" width="9" height="9" fill="#4dffb2"/>
<rect x="569" y="54" width="9" height="9" fill="#26ffd9"/>
<rect x="423" y="63" width="9" height="10" fill="#bf0000"/>
<rect x="432" y="63" width="9" height="10" fill="#ff4000"/>
<rect x="441" y="63" width="9" height="10" fill="#ffff00"/>
<rect x="450" y="63" width="9" height="10" fill="#73ff8c"/>
<rect x="459" y="63" width="10" height="10" fill="#33ffcc"/>
<rect x="469" y="63" width="9" height="10" fill="#26ffd9"/>
<rect x="478" y="63" width="9" height="10" fill="#00f2ff"/>
<rect x="487" y="63" width="9" height="10" fill="#00ffff"/>
<rect x="496" y="63" width="9" height="10" fill="#40ffbf"/>
<rect x="505" y="63" width="9" height="10" fill="#80ff80"/>
<rect x="514" y="63" width="9" height="10" fill="#60ff9f"/>
<rect x="523" y="63" width="9" height="10" fill="#60ff9f"/>
<rect x="532" y="63" width="10" height="10" fill="#60ff9f"/>
<rect x="542" y="63" width="9" height="10" fill="#4dffb2"/>
<rect x="551" y="63" width="9" height="10" fill="#46ffb9"/>
<rect x="560" y="63" width="9" height="10" fill="#33ffcc"/>
<rect x="569" y="63" width="9" height="10" fill="#20ffdf"/>
<rect x="578" y="63" width="9" height="10" fill="#00ffff"/>
<rect x="414" y="73" width="9" height="9" fill="#cc0000"/>
<rect x="423" y="73" width="9" height="9" fill="#ff4c00"/>
<rect x="432" y="73" width="9" height="9" fill="#ffbf00"/>
<rect x="441" y="73" width="9" height="9" fill="#80ff80"/>
<rect x="450" y="73" width="9" height="9" fill="#26ffd9"/>
<rect x="459" y="73" width="10" height="9" fill="#00e5ff"/>
<rect x="469" y="73" width="9" height="9" fill="#00ccff"/>
<rect x="478" y="73" width="9" height="9" fill="#00a6ff"/>
<rect x="487" y="73" width="9" height="9" fill="#00b2ff"/>
<rect x="496" y="73" width="9" height="9" fill="#00d9ff"/>
<rect x="505" y="73" width="9" height="9" fill="#4dffb2"/>
<rect x="514" y="73" width="9" height="9" fill="#73ff8c"/>
<rect x="523" y="73" width="9" height="9" fill="#59ffa6"/>
<rect x="532" y="73" width="10" height="9" fill="#4dffb2"/>
<rect x="542" y="73" width="9" height="9" fill="#4dffb2"/>
<rect x="551" y="73" width="9" height="9" fill="#40ffbf"/>
<rect x="560" y="73" width="9" height="9" fill="#40ffbf"/>
<rect x="569" y="73" width="9" height="9" fill="#33ffcc"/>
<rect x="578" y="73" width="9" height="9" fill="#2dffd2"/>
<rect x="587" y="73" width="9" height="9" fill="#00ffff"/>
<rect x="414" y="82" width="9" height="9" fill="#ff4000"/>
<rect x="423" y="82" width="9" height="9" fill="#ffbf00"/>
<rect x="432" y="82" width="9" height="9" fill="#b3ff4c"/>
<rect x="441" y="82" width="9" height="9" fill="#1affe5"/>
<rect x="450" y="82" width="9" height="9" fill="#00bfff"/>
<rect x="459" y="82" width="10" height="9" fill="#008cff"/>
<rect x="469" y="82" width="9" height="9" fill="#0073ff"/>
<rect x="478" y="82" width="9" height="9" fill="#0066ff"/>
<rect x="487" y="82" width="9" height="9" fill="#0073ff"/>
<rect x="496" y="82" width="9" height="9" fill="#00b2ff"/>
<rect x="505" y="82" width="9" height="9" fill="#33ffcc"/>
<rect x="514" y="82" width="9" height="9" fill="#4dffb2"/>
<rect x="523" y="82" width="9" height="9" fill="#40ffbf"/>
<rect x="532" y="82" width="10" height="9" fill="#33ffcc"/>
<rect x="542" y="82" width="9" height="9" fill="#26ffd9"/>
<rect x="551" y="82" width="9" height="9" fill="#26ffd9"/>
<rect x="560" y="82" width="9" height="9" fill="#26ffd9"/>
<rect x="569" y="82" width="9" height="9" fill="#26ffd9"/>
<rect x="578" y="82" width="9" height="9" fill="#26ffd9"/>
<rect x="587" y="82" width="9" height="9" fill="#33ffcc"/>
<rect x="405" y="91" width="9" height="9" fill="#ffcc00"/>
<rect x="414" y="91" width="9" height="9" fill="#fff200"/>
<rect x="423" y="91" width="9" height="9" fill="#ccff33"/>
<rect x="432" y="91" width="9" height="9" fill="#33ffcc"/>
<rect x="441" y="91" width="9" height="9" fill="#00b2ff"/>
<rect x="450" y="91" width="9" height="9" fill="#008cff"/>
<rect x="459" y="91" width="10" height="9" fill="#0066ff"/>
<rect x="469" y="91" width="9" height="9" fill="#004dff"/>
<rect x="478" y="91" width="9" height="9" fill="#0040ff"/>
<rect x="487" y="91" width="9" height="9" fill="#0059ff"/>
<rect x="496" y="91" width="9" height="9" fill="#00a6ff"/>
<rect x="505" y="91" width="9" height="9" fill="#1affe5"/>
<rect x="514" y="91" width="9" height="9" fill="#33ffcc"/>
<rect x="523" y="91" width="9" height="9" fill="#26ffd9"/>
<rect x="532" y="91" width="10" height="9" fill="#1affe5"/>
<rect x="542" y="91" width="9" height="9" fill="#1affe5"/>
<rect x="551" y="91" width="9" height="9" fill="#1affe5"/>
<rect x="560" y="91" width="9" height="9" fill="#1affe5"/>
<rect x="569" y="91" width="9" height="9" fill="#26ffd9"/>
<rect x="578" y="91" width="9" height="9" fill="#1affe5"/>
<rect x="587" y="91" width="9" height="9" fill="#33ffcc"/>
<rect x="596" y="91" width="9" height="9" fill="#59ffa6"/>
<rect x="405" y="100" width="9" height="9" fill="#99ff66"/>
<rect x="414" y="100" width="9" height="9" fill="#80ff80"/>
<rect x="423" y="100" width="9" height="9" fill="#33ffcc"/>
<rect x="432" y="100" width="9" height="9" fill="#00b2ff"/>
<rect x="441" y="100" width="9" height="9" fill="#0066ff"/>
<rect x="450" y="100" width="9" height="9" fill="#004dff"/>
<rect x="459" y="100" width="10" height="9" fill="#0026ff"/>
<rect x="469" y="100" width="9" height="9" fill="#0026ff"/>
<rect x="478" y="100" width="9" height="9" fill="#0026ff"/>
<rect x="487" y="100" width="9" height="9" fill="#004dff"/>
<rect x="496" y="100" width="9" height="9" fill="#0099ff"/>
<rect x="505" y="100" width="9" height="9" fill="#00f2ff"/>
<rect x="514" y="100" width="9" height="9" fill="#1affe5"/>
<rect x="523" y="100" width="9" height="9" fill="#0dfff2"/>
<rect x="532" y="100" width="10" height="9" fill="#00ffff"/>
<rect x="542" y="100" width="9" height="9" fill="#00ffff"/>
<rect x="551" y="100" width="9" height="9" fill="#0dfff2"/>
<rect x="560" y="100" width="9" height="9" fill="#1affe5"/>
<rect x="569" y="100" width="9" height="9" fill="#26ffd9"/>
<rect x="578" y="100" width="9" height="9" fill="#26ffd9"/>
<rect x="587" y="100" width="9" height="9" fill="#33ffcc"/>
<rect x="596" y="100" width="9" height="9" fill="#59ffa6"/>
<rect x="405" y="109" width="9" height="9" fill="#4dffb2"/>
<rect x="414" y="109" width="9" height="9" fill="#00f2ff"/>
<rect x="423" y="109" width="9" height="9" fill="#00a6ff"/>
<rect x="432" y="109" width="9" height="9" fill="#0066ff"/>
<rect x="441" y="109" width="9" height="9" fill="#0026ff"/>
<rect x="450" y="109" width="9" height="9" fill="#000dff"/>
<rect x="459" y="109" width="10" height="9" fill="#0000ff"/>
<rect x="469" y="109" width="9" height="9" fill="#000dff"/>
<rect x="478" y="109" width="9" height="9" fill="#0000ff"/>
<rect x="487" y="109" width="9" height="9" fill="#0033ff"/>
<rect x="496" y="109" width="9" height="9" fill="#0080ff"/>
<rect x="505" y="109" width="9" height="9" fill="#00bfff"/>
<rect x="514" y="109" width="9" height="9" fill="#00ffff"/>
<rect x="523" y="109" width="9" height="9" fill="#00ffff"/>
<rect x="532" y="109" width="10" height="9" fill="#00ffff"/>
<rect x="542" y="109" width="9" height="9" fill="#00ffff"/>
<rect x="551" y="109" width="9" height="9" fill="#00ffff"/>
<rect x="560" y="109" width="9" height="9" fill="#1affe5"/>
<rect x="569" y="109" width="9" height="9" fill="#1affe5"/>
<rect x="578" y="109" width="9" height="9" fill="#33ffcc"/>
<rect x="587" y="109" width="9" height="9" fill="#33ffcc"/>
<rect x="596" y="109" width="9" height="9" fill="#59ffa6"/>
<rect x="405" y="118" width="9" height="9" fill="#1affe5"/>
<rect x="414" y="118" width="9" height="9" fill="#00b2ff"/>
<rect x="423" y="118" width="9" height="9" fill="#0066ff"/>
<rect x="432" y="118" width="9" height="9" fill="#0026ff"/>
<rect x="441" y="118" width="9" height="9" fill="#0000ff"/>
<rect x="450" y="118" width="9" height="9" fill="#0000f2"/>
<rect x="459" y="118" width="10" height="9" fill="#0000e6"/>
<rect x="469" y="118" width="9" height="9" fill="#0000f2"/>
<rect x="478" y="118" width="9" height="9" fill="#0000ff"/>
<rect x="487" y="118" width="9" height="9" fill="#0026ff"/>
<rect x="496" y="118" width="9" height="9" fill="#0073ff"/>
<rect x="505" y="118" width="9" height="9" fill="#00b2ff"/>
<rect x="514" y="118" width="9" height="9" fill="#00f2ff"/>
<rect x="523" y="118" width="9" height="9" fill="#00ffff"/>
<rect x="532" y="118" width="10" height="9" fill="#00ffff"/>
<rect x="542" y="118" width="9" height="9" fill="#00f2ff"/>
<rect x="551" y="118" width="9" height="9" fill="#00ffff"/>
<rect x="560" y="118" width="9" height="9" fill="#0dfff2"/>
<rect x="569" y="118" width="9" height="9" fill="#1affe5"/>
<rect x="578" y="118" width="9" height="9" fill="#40ffbf"/>
<rect x="587" y="118" width="9" height="9" fill="#40ffbf"/>
<rect x="596" y="118" width="9" height="9" fill="#59ffa6"/>
<rect x="405" y="127" width="9" height="9" fill="#26ffd9"/>
<rect x="414" y="127" width="9" height="9" fill="#0099ff"/>
<rect x="423" y="127" width="9" height="9" fill="#004dff"/>
<rect x="432" y="127" width="9" height="9" fill="#0026ff"/>
<rect x="441" y="127" width="9" height="9" fill="#0000ff"/>
<rect x="450" y="127" width="9" height="9" fill="#0000e6"/>
<rect x="459" y="127" width="10" height="9" fill="#0000e6"/>
<rect x="469" y="127" width="9" height="9" fill="#0000ff"/>
<rect x="478" y="127" width="9" height="9" fill="#0019ff"/>
<rect x="487" y="127" width="9" height="9" fill="#0033ff"/>
<rect x="496" y="127" width="9" height="9" fill="#0066ff"/>
<rect x="505" y="127" width="9" height="9" fill="#00a6ff"/>
<rect x="514" y="127" width="9" height="9" fill="#00e5ff"/>
<rect x="523" y="127" width="9" height="9" fill="#00f2ff"/>
<rect x="532" y="127" width="10" height="9" fill="#00ffff"/>
<rect x="542" y="127" width="9" height="9" fill="#00f2ff"/>
<rect x="551" y="127" width="9" height="9" fill="#00f2ff"/>
<rect x="560" y="127" width="9" height="9" fill="#00ffff"/>
<rect x="569" y="127" width="9" height="9" fill="#26ffd9"/>
<rect x="578" y="127" width="9" height="9" fill="#40ffbf"/>
<rect x="587" y="127" width="9" height="9" fill="#4dffb2"/>
<rect x="596" y="127" width="9" height="9" fill="#59ffa6"/>
<rect x="405" y="136" width="9" height="9" fill="#00f2ff"/>
<rect x="414" y="136" width="9" height="9" fill="#008cff"/>
<rect x="423" y="136" width="9" height="9" fill="#0040ff"/>
<rect x="432" y="136" width="9" height="9" fill="#0000ff"/>
<rect x="441" y="136" width="9" height="9" fill="#0000d9"/>
<rect x="450" y="136" width="9" height="9" fill="#0000cc"/>
<rect x="459" y="136" width="10" height="9" fill="#0000cc"/>
<rect x="469" y="136" width="9" height="9" fill="#0000ff"/>
<rect x="478" y="136" width="9" height="9" fill="#0019ff"/>
<rect x="487" y="136" width="9" height="9" fill="#0033ff"/>
<rect x="496" y="136" width="9" height="9" fill="#0059ff"/>
<rect x="505" y="136" width="9" height="9" fill="#008cff"/>
<rect x="514" y="136" width="9" height="9" fill="#00e5ff"/>
<rect x="523" y="136" width="9" height="9" fill="#00ffff"/>
<rect x="532" y="136" width="10" height="9" fill="#00ffff"/>
<rect x="542" y="136" width="9" height="9" fill="#00f2ff"/>
<rect x="551" y="136" width="9" height="9" fill="#00ffff"/>
<rect x="560" y="136" width="9" height="9" fill="#00ffff"/>
<rect x="569" y="136" width="9" height="9" fill="#26ffd9"/>
<rect x="578" y="136" width="9" height="9" fill="#40ffbf"/>
<rect x="587" y="136" width="9" height="9" fill="#4dffb2"/>
<rect x="596" y="136" width="9" height="9" fill="#59ffa6"/>
<rect x="405" y="145" width="9" height="9" fill="#00d9ff"/>
<rect x="414" y="145" width="9" height="9" fill="#0080ff"/>
<rect x="423" y="145" width="9" height="9" fill="#0033ff"/>
<rect x="432" y="145" width="9" height="9" fill="#0000e6"/>
<rect x="441" y="145" width="9" height="9" fill="#0000bf"/>
<rect x="450" y="145" width="9" height="9" fill="#0000c6"/>
<rect x="459" y="145" width="10" height="9" fill="#0000d9"/>
<rect x="469" y="145" width="9" height="9" fill="#0000ff"/>
<rect x="478" y="145" width="9" height="9" fill="#0019ff"/>
<rect x="487" y="145" width="9" height="9" fill="#0026ff"/>
<rect x="496" y="145" width="9" height="9" fill="#0059ff"/>
<rect x="505" y="145" width="9" height="9" fill="#0080ff"/>
<rect x="514" y="145" width="9" height="9" fill="#00d9ff"/>
<rect x="523" y="145" width="9" height="9" fill="#00ffff"/>
<rect x="532" y="145" width="10" height="9" fill="#00ffff"/>
<rect x="542" y="145" width="9" height="9" fill="#00f2ff"/>
<rect x="551" y="145" width="9" height="9" fill="#00ffff"/>
<rect x="560" y="145" width="9" height="9" fill="#1affe5"/>
<rect x="569" y="145" width="9" height="9" fill="#33ffcc"/>
<rect x="578" y="145" width="9" height="9" fill="#4dffb2"/>
<rect x="587" y="145" width="9" height="9" fill="#59ffa6"/>
<rect x="596" y="145" width="9" height="9" fill="#66ff99"/>
<rect x="405" y="154" width="9" height="9" fill="#00d9ff"/>
<rect x="414" y="154" width="9" height="9" fill="#0080ff"/>
<rect x="423" y="154" width="9" height="9" fill="#0019ff"/>
<rect x="432" y="154" width="9" height="9" fill="#0000d9"/>
<rect x="441" y="154" width="9" height="9" fill="#0000cc"/>
<rect x="450" y="154" width="9" height="9" fill="#0000d9"/>
<rect x="459" y="154" width="10" height="9" fill="#0000e6"/>
<rect x="469" y="154" width="9" height="9" fill="#0019ff"/>
<rect x="478" y="154" width="9" height="9" fill="#0033ff"/>
<rect x="487" y="154" width="9" height="9" fill="#0040ff"/>
<rect x="496" y="154" width="9" height="9" fill="#0066ff"/>
<rect x="505" y="154" width="9" height="9" fill="#0099ff"/>
<rect x="514" y="154" width="9" height="9" fill="#00e5ff"/>
<rect x="523" y="154" width="9" height="9" fill="#0dfff2"/>
<rect x="532" y="154" width="10" height="9" fill="#00ffff"/>
<rect x="542" y="154" width="9" height="9" fill="#00f2ff"/>
<rect x="551" y="154" width="9" height="9" fill="#00ffff"/>
<rect x="560" y="154" width="9" height="9" fill="#1affe5"/>
<rect x="569" y="154" width="9" height="9" fill="#33ffcc"/>
<rect x="578" y="154" width="9" height="9" fill="#59ffa6"/>
<rect x="587" y="154" width="9" height="9" fill="#73ff8c"/>
<rect x="596" y="154" width="9" height="9" fill="#8cff73"/>
<rect x="414" y="163" width="9" height="9" fill="#0066ff"/>
<rect x="423" y="163" width="9" height="9" fill="#0019ff"/>
<rect x="432" y="163" width="9" height="9" fill="#0000e6"/>
<rect x="441" y="163" width="9" height="9" fill="#0000d9"/>
<rect x="450" y="163" width="9" height="9" fill="#0000e6"/>
<rect x="459" y="163" width="10" height="9" fill="#0000ff"/>
<rect x="469" y="163" width="9" height="9" fill="#0026ff"/>
<rect x="478" y="163" width="9" height="9" fill="#004dff"/>
<rect x="487" y="163" width="9" height="9" fill="#0073ff"/>
<rect x="496" y="163" width="9" height="9" fill="#008cff"/>
<rect x="505" y="163" width="9" height="9" fill="#00bfff"/>
<rect x="514" y="163" width="9" height="9" fill="#1affe5"/>
<rect x="523" y="163" width="9" height="9" fill="#1affe5"/>
<rect x="532" y="163" width="10" height="9" fill="#0dfff2"/>
<rect x="542" y="163" width="9" height="9" fill="#00d9ff"/>
<rect x="551" y="163" width="9" height="9" fill="#00ffff"/>
<rect x="560" y="163" width="9" height="9" fill="#1affe5"/>
<rect x="569" y="163" width="9" height="9" fill="#40ffbf"/>
<rect x="578" y="163" width="9" height="9" fill="#73ff8c"/>
<rect x="587" y="163" width="9" height="9" fill="#80ff80"/>
<rect x="414" y="172" width="9" height="10" fill="#0073ff"/>
<rect x="423" y="172" width="9" height="10" fill="#0026ff"/>
<rect x="432" y="172" width="9" height="10" fill="#0000ff"/>
<rect x="441" y="172" width="9" height="10" fill="#0000ff"/>
<rect x="450" y="172" width="9" height="10" fill="#0019ff"/>
<rect x="459" y="172" width="10" height="10" fill="#0033ff"/>
<rect x="469" y="172" width="9" height="10" fill="#004dff"/>
<rect x="478" y="172" width="9" height="10" fill="#0080ff"/>
<rect x="487" y="172" width="9" height="10" fill="#00b2ff"/>
<rect x="496" y="172" width="9" height="10" fill="#00f2ff"/>
<rect x="505" y="172" width="9" height="10" fill="#33ffcc"/>
<rect x="514" y="172" width="9" height="10" fill="#26ffd9"/>
<rect x="523" y="172" width="9" height="10" fill="#1affe5"/>
<rect x="532" y="172" width="10" height="10" fill="#0dfff2"/>
<rect x="542" y="172" width="9" height="10" fill="#00ecff"/>
<rect x="551" y="172" width="9" height="10" fill="#00ffff"/>
<rect x="560" y="172" width="9" height="10" fill="#26ffd9"/>
<rect x="569" y="172" width="9" height="10" fill="#59ffa6"/>
<rect x="578" y="172" width="9" height="10" fill="#80ff80"/>
<rect x="587" y="172" width="9" height="10" fill="#a6ff59"/>
<rect x="423" y="182" width="9" height="9" fill="#004dff"/>
<rect x="432" y="182" width="9" height="9" fill="#0033ff"/>
<rect x="441" y="182" width="9" height="9" fill="#0026ff"/>
<rect x="450" y="182" width="9" height="9" fill="#0033ff"/>
<rect x="459" y="182" width="10" height="9" fill="#004dff"/>
<rect x="469" y="182" width="9" height="9" fill="#0066ff"/>
<rect x="478" y="182" width="9" height="9" fill="#00f2ff"/>
<rect x="487" y="182" width="9" height="9" fill="#4dffb2"/>
<rect x="496" y="182" width="9" height="9" fill="#40ffbf"/>
<rect x="505" y="182" width="9" height="9" fill="#33ffcc"/>
<rect x="514" y="182" width="9" height="9" fill="#1affe5"/>
<rect x="523" y="182" width="9" height="9" fill="#00ffff"/>
<rect x="532" y="182" width="10" height="9" fill="#00f2ff"/>
<rect x="542" y="182" width="9" height="9" fill="#00ecff"/>
<rect x="551" y="182" width="9" height="9" fill="#00ffff"/>
<rect x="560" y="182" width="9" height="9" fill="#33ffcc"/>
<rect x="569" y="182" width="9" height="9" fill="#59ffa6"/>
<rect x="578" y="182" width="9" height="9" fill="#99ff66"/>
<rect x="432" y="191" width="9" height="9" fill="#0073ff"/>
<rect x="441" y="191" width="9" height="9" fill="#0073ff"/>
<rect x="450" y="191" width="9" height="9" fill="#0080ff"/>
<rect x="459" y="191" width="10" height="9" fill="#008cff"/>
<rect x="469" y="191" width="9" height="9" fill="#00b2ff"/>
<rect x="478" y="191" width="9" height="9" fill="#59ffa6"/>
<rect x="487" y="191" width="9" height="9" fill="#59ffa6"/>
<rect x="496" y="191" width="9" height="9" fill="#40ffbf"/>
<rect x="505" y="191" width="9" height="9" fill="#33ffcc"/>
<rect x="514" y="191" width="9" height="9" fill="#26ffd9"/>
<rect x="523" y="191" width="9" height="9" fill="#0dfff2"/>
<rect x="532" y="191" width="10" height="9" fill="#00ffff"/>
<rect x="542" y="191" width="9" height="9" fill="#00ffff"/>
<rect x="551" y="191" width="9" height="9" fill="#0dfff2"/>
<rect x="560" y="191" width="9" height="9" fill="#33ffcc"/>
<rect x="569" y="191" width="9" height="9" fill="#73ff8c"/>
<rect x="441" y="200" width="9" height="9" fill="#00d9ff"/>
<rect x="450" y="200" width="9" height="9" fill="#00ccff"/>
<rect x="459" y="200" width="10" height="9" fill="#00d9ff"/>
<rect x="469" y="200" width="9" height="9" fill="#1affe5"/>
<rect x="478" y="200" width="9" height="9" fill="#a6ff59"/>
<rect x="487" y="200" width="9" height="9" fill="#8cff73"/>
<rect x="496" y="200" width="9" height="9" fill="#66ff99"/>
<rect x="505" y="200" width="9" height="9" fill="#59ffa6"/>
<rect x="514" y="200" width="9" height="9" fill="#33ffcc"/>
<rect x="523" y="200" width="9" height="9" fill="#26ffd9"/>
<rect x="532" y="200" width="10" height="9" fill="#1affe5"/>
<rect x="542" y="200" width="9" height="9" fill="#1affe5"/>
<rect x="551" y="200" width="9" height="9" fill="#26ffd9"/>
<rect x="560" y="200" width="9" height="9" fill="#59ffa6"/>
<rect x="450" y="209" width="9" height="9" fill="#33ffcc"/>
<rect x="459" y="209" width="10" height="9" fill="#59ffa6"/>
<rect x="469" y="209" width="9" height="9" fill="#73ff8c"/>
<rect x="478" y="209" width="9" height="9" fill="#bfff40"/>
<rect x="487" y="209" width="9" height="9" fill="#a6ff59"/>
<rect x="496" y="209" width="9" height="9" fill="#80ff80"/>
<rect x="505" y="209" width="9" height="9" fill="#66ff99"/>
<rect x="514" y="209" width="9" height="9" fill="#4dffb2"/>
<rect x="523" y="209" width="9" height="9" fill="#33ffcc"/>
<rect x="532" y="209" width="10" height="9" fill="#26ffd9"/>
<rect x="542" y="209" width="9" height="9" fill="#33ffcc"/>
<rect x="551" y="209" width="9" height="9" fill="#73ff8c"/>
<rect x="469" y="218" width="9" height="9" fill="#bfff40"/>
<rect x="478" y="218" width="9" height="9" fill="#ffff00"/>
<rect x="487" y="218" width="9" height="9" fill="#e5ff1a"/>
<rect x="496" y="218" width="9" height="9" fill="#ccff33"/>
<rect x="505" y="218" width="9" height="9" fill="#a6ff59"/>
<rect x="514" y="218" width="9" height="9" fill="#8cff73"/>
<rect x="523" y="218" width="9" height="9" fill="#80ff80"/>
<rect x="532" y="218" width="10" height="9" fill="#73ff8c"/>
</g>
<rect x="395.7" y="18.5" width="219.0" height="218.0" fill="none" stroke="#858585" stroke-width="1"/>
<path d="M395.70 236.5v-2.2M395.70 18.5v2.2M395.7 18.50h2.2M614.7 18.50h-2.2M413.95 236.5v-2.2M413.95 18.5v2.2M395.7 36.67h2.2M614.7 36.67h-2.2M432.20 236.5v-2.2M432.20 18.5v2.2M395.7 54.83h2.2M614.7 54.83h-2.2M450.45 236.5v-2.2M450.45 18.5v2.2M395.7 73.00h2.2M614.7 73.00h-2.2M468.70 236.5v-2.2M468.70 18.5v2.2M395.7 91.17h2.2M614.7 91.17h-2.2M486.95 236.5v-2.2M486.95 18.5v2.2M395.7 109.33h2.2M614.7 109.33h-2.2M505.20 236.5v-2.2M505.20 18.5v2.2M395.7 127.50h2.2M614.7 127.50h-2.2M523.45 236.5v-2.2M523.45 18.5v2.2M395.7 145.67h2.2M614.7 145.67h-2.2M541.70 236.5v-2.2M541.70 18.5v2.2M395.7 163.83h2.2M614.7 163.83h-2.2M559.95 236.5v-2.2M559.95 18.5v2.2M395.7 182.00h2.2M614.7 182.00h-2.2M578.20 236.5v-2.2M578.20 18.5v2.2M395.7 200.17h2.2M614.7 200.17h-2.2M596.45 236.5v-2.2M596.45 18.5v2.2M395.7 218.33h2.2M614.7 218.33h-2.2M614.70 236.5v-2.2M614.70 18.5v2.2M395.7 236.50h2.2M614.7 236.50h-2.2" stroke="#707070" stroke-width="1" fill="none"/>
<text class="t" x="390.4" y="22.5" text-anchor="end">48</text>
<text class="t" transform="translate(401.9 248.3) rotate(-45)" text-anchor="end">-48</text>
<text class="t" x="390.4" y="40.7" text-anchor="end">40</text>
<text class="t" transform="translate(420.1 248.3) rotate(-45)" text-anchor="end">-40</text>
<text class="t" x="390.4" y="58.8" text-anchor="end">32</text>
<text class="t" transform="translate(438.4 248.3) rotate(-45)" text-anchor="end">-32</text>
<text class="t" x="390.4" y="77.0" text-anchor="end">24</text>
<text class="t" transform="translate(456.6 248.3) rotate(-45)" text-anchor="end">-24</text>
<text class="t" x="390.4" y="95.2" text-anchor="end">16</text>
<text class="t" transform="translate(474.9 248.3) rotate(-45)" text-anchor="end">-16</text>
<text class="t" x="390.4" y="113.3" text-anchor="end">8</text>
<text class="t" transform="translate(493.1 248.3) rotate(-45)" text-anchor="end">-8</text>
<text class="t" x="390.4" y="131.5" text-anchor="end">0</text>
<text class="t" transform="translate(511.4 248.3) rotate(-45)" text-anchor="end">0</text>
<text class="t" x="390.4" y="149.7" text-anchor="end">-8</text>
<text class="t" transform="translate(529.7 248.3) rotate(-45)" text-anchor="end">8</text>
<text class="t" x="390.4" y="167.8" text-anchor="end">-16</text>
<text class="t" transform="translate(547.9 248.3) rotate(-45)" text-anchor="end">16</text>
<text class="t" x="390.4" y="186.0" text-anchor="end">-24</text>
<text class="t" transform="translate(566.2 248.3) rotate(-45)" text-anchor="end">24</text>
<text class="t" x="390.4" y="204.2" text-anchor="end">-32</text>
<text class="t" transform="translate(584.4 248.3) rotate(-45)" text-anchor="end">32</text>
<text class="t" x="390.4" y="222.3" text-anchor="end">-40</text>
<text class="t" transform="translate(602.7 248.3) rotate(-45)" text-anchor="end">40</text>
<text class="t" x="390.4" y="240.5" text-anchor="end">-48</text>
<text class="t" transform="translate(620.9 248.3) rotate(-45)" text-anchor="end">48</text>
<text class="ti" x="505.2" y="14.3" text-anchor="middle">Expected transmission</text>
<text class="l" x="505.2" y="274.2" text-anchor="middle">d<tspan class="sub" dy="5.4">x</tspan><tspan dy="-5.4"> [deg]</tspan></text>
<text class="l" transform="translate(363.2 127.5) rotate(-90)" text-anchor="middle">d<tspan class="sub" dy="5.4">y</tspan><tspan dy="-5.4"> [deg]</tspan></text>
<rect x="633.0" y="18.5" width="17.0" height="218.0" fill="url(#jet)"/>
<rect x="633.0" y="18.5" width="17.0" height="218.0" fill="none" stroke="#858585" stroke-width="0.5"/>
<text class="c" x="654.0" y="42.1">1.8</text>
<text class="c" x="654.0" y="80.7">1.6</text>
<text class="c" x="654.0" y="119.4">1.4</text>
<text class="c" x="654.0" y="158.0">1.2</text>
<text class="c" x="654.0" y="196.6">1</text>
<text class="c" x="654.0" y="235.2">0.8</text>
<path d="M650.0 38.50h-2.2M650.0 77.10h-2.2M650.0 115.80h-2.2M650.0 154.40h-2.2M650.0 193.00h-2.2M650.0 231.60h-2.2" stroke="#707070" stroke-width="1" fill="none"/>
<text class="c" x="650.3" y="13.6">×10<tspan class="sup" dy="-5">-3</tspan></text>
<text class="cl" transform="translate(681.2 126.6) rotate(-90)" text-anchor="middle">Ratio [-]</text>
</svg>
</body></html>
